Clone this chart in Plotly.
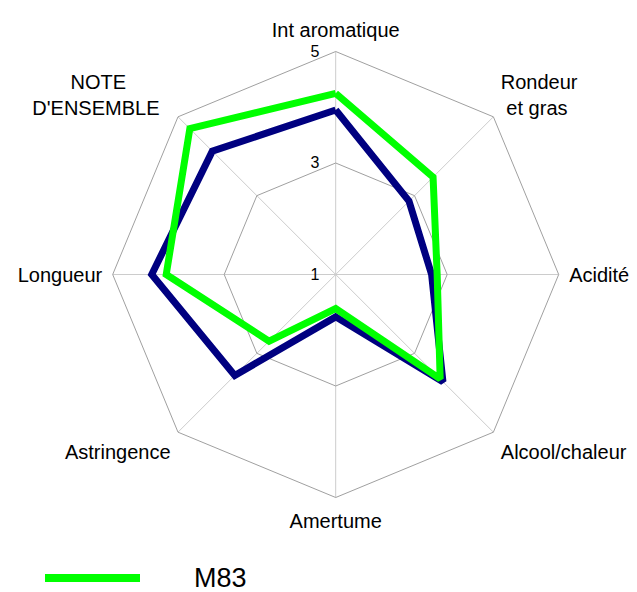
import plotly.graph_objects as go

NBSP = "\u00a0"
categories = ["Int aromatique", "Rondeur<br>" + NBSP + "et gras", "Acidité",
              "Alcool/chaleur", "Amertume", "Astringence", "Longueur",
              "NOTE" + NBSP * 8 + "<br>D'ENSEMBLE" + NBSP * 2]
m83_values = [4.25, 3.47, 2.82, 3.65, 1.61, 2.69, 4.04, 4.70]
other_values = [3.95, 2.86, 2.72, 3.72, 1.76, 3.56, 4.30, 4.13]
m83_name = "M83"
other_name = "Autre"
radial_ticks = [1, 3, 5]

theta = categories + categories[:1]

fig = go.Figure()
fig.add_trace(go.Scatterpolar(
    r=other_values + other_values[:1], theta=theta, mode="lines",
    line=dict(color="#000080", width=7), name=other_name, showlegend=False))
fig.add_trace(go.Scatterpolar(
    r=m83_values + m83_values[:1], theta=theta, mode="lines",
    line=dict(color="#00FF00", width=7), name=m83_name, showlegend=False))

cx, cy, R = 335.7, 274.5, 223
W, H = 637, 592
fig.update_layout(
    width=W, height=H,
    margin=dict(l=0, r=0, t=0, b=0),
    paper_bgcolor="white",
    font=dict(family="Liberation Sans, Arial, sans-serif", color="black"),
    polar=dict(
        domain=dict(x=[(cx - R) / W, (cx + R) / W], y=[1 - (cy + R) / H, 1 - (cy - R) / H]),
        bgcolor="white",
        gridshape="linear",
        radialaxis=dict(range=[1, 5], tickvals=radial_ticks,
                        ticktext=[str(v) + NBSP * 3 for v in radial_ticks],
                        angle=90, tickangle=90, side="counterclockwise",
                        showline=False, gridcolor="#a0a0a0", gridwidth=1,
                        ticks="", tickfont=dict(size=16)),
        angularaxis=dict(direction="clockwise", rotation=90,
                         showline=True, linecolor="#a0a0a0", linewidth=1,
                         gridcolor="#cccccc", gridwidth=1,
                         ticks="outside", ticklen=6, tickcolor="rgba(0,0,0,0)",
                         tickfont=dict(size=20)),
    ),
    shapes=[dict(type="line", xref="paper", yref="paper",
                 x0=45 / W, x1=140 / W, y0=1 - 578 / H, y1=1 - 578 / H,
                 line=dict(color="#00FF00", width=8))],
    annotations=[dict(text=m83_name, xref="paper", yref="paper",
                      x=192 / W, y=1 - 578 / H, xanchor="left", yanchor="middle",
                      showarrow=False, font=dict(size=27))],
)

fig.write_html("out.html", config={"displayModeBar": False},
               post_script="document.body.style.margin='0';")
